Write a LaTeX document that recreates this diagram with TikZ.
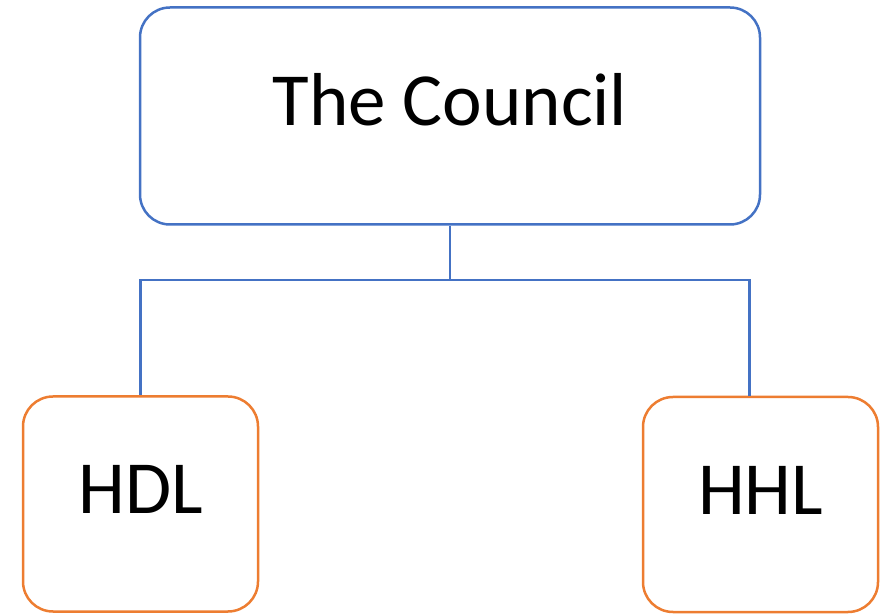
\documentclass[tikz,border=0pt]{standalone}
\usepackage{fontspec}
\setmainfont{Carlito}
\definecolor{boxblue}{HTML}{4472C4}
\definecolor{boxorange}{HTML}{ED7D31}
\tikzset{every node/.style={rectangle, rounded corners=30pt, line width=2.5pt, text height=40pt, text depth=20pt, font=\fontsize{75}{80}\selectfont}}

\begin{document}
\begin{tikzpicture}[x=1pt, y=1pt]
			\useasboundingbox (0,0) rectangle (894,613);
			
			\node[draw=boxblue, minimum width=620pt, minimum height=217pt] (council) at (450,497) {The Council};
			
			\node[draw=boxorange, minimum width=235pt, minimum height=215pt] (hdl) at (140.5,109) {HDL};
			\node[draw=boxorange, minimum width=235pt, minimum height=215pt] (hhl) at (760.5,108.5) {HHL};
			
			\coordinate (split) at (450,333);
			
			\draw[boxblue, line width=2.5pt] (council.south) -- (split);
			\draw[boxblue, line width=2.5pt] (split) -| (hdl.north);
			\draw[boxblue, line width=2.5pt] (split) -| ([xshift=-11pt]hhl.north);
			
		\end{tikzpicture}
\end{document}
